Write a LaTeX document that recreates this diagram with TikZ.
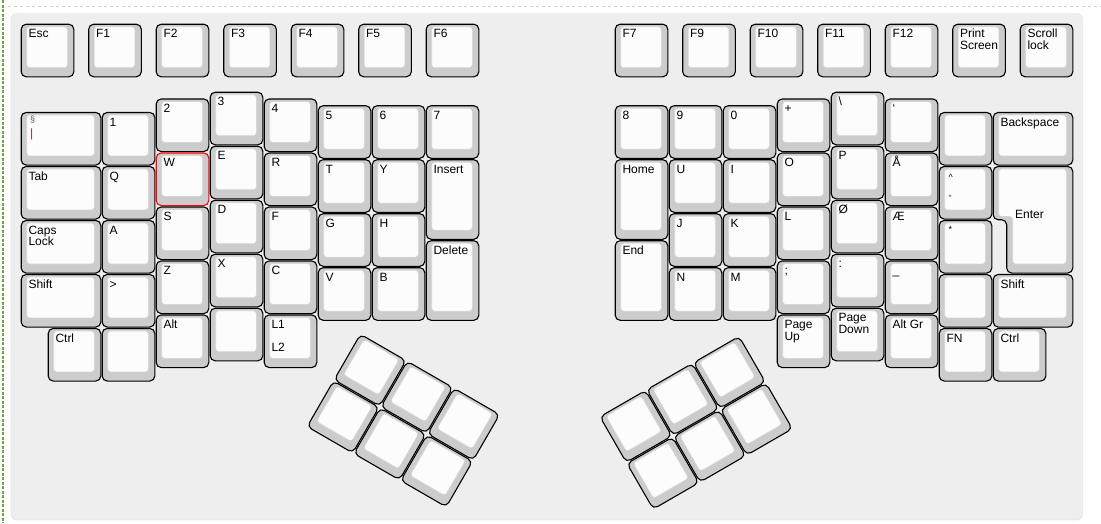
\documentclass[tikz,border=0pt]{standalone}
\usepackage{fontspec}
\setmainfont{Liberation Sans}
\definecolor{panelfill}{HTML}{EEEEEE}
\definecolor{paneledge}{HTML}{DDDDDD}
\definecolor{capside}{HTML}{CCCCCC}
\definecolor{captop}{HTML}{FCFCFC}
\definecolor{capedge}{HTML}{D6D6D6}
\definecolor{dashgray}{HTML}{D0D0D0}
\definecolor{dashgreen}{HTML}{6FA347}
\definecolor{labred}{HTML}{8A3A3A}
\definecolor{labgray}{HTML}{555555}
\definecolor{labblue}{HTML}{2A3A7A}
\tikzset{
  kout/.style={draw=black,line width=1.1pt,fill=capside,rounded corners=5pt},
  kin/.style={draw=capedge,line width=0.6pt,fill=captop,rounded corners=3pt},
  klab/.style={anchor=base west,inner sep=0pt,font=\fontsize{12}{11.5}\selectfont,text=black},
  ksmall/.style={anchor=base west,inner sep=0pt,font=\fontsize{9}{10}\selectfont},
}
% key in pixel coordinates: [outer style]{name}{x}{y}{w}{h}{label}
\newcommand\kp[7][]{%
  \draw[kout,#1] (#3+0.7,#4+0.7) rectangle ++(#5-1.4,#6-1.4);
  \draw[kin] (#3+6.2,#4+3.2) rectangle ++(#5-13.4,#6-13);
  \node[klab] (#2) at (#3+7.8,#4+14.4) {#7};}
% key in units
\newcommand\ku[7][]{\kp[#1]{#2}{20.5+54*#3}{#4}{54*#5}{54*#6}{#7}}
% blank thumb key
\newcommand\kb[2]{%
  \draw[kout] (#1+0.7,#2+0.7) rectangle ++(52.6,52.6);
  \draw[kin] (#1+6.2,#2+3.2) rectangle ++(40.6,41);}
\newcommand\two[2]{\vtop{\hbox{#1}\hbox{#2}}}
\def\RT{23.5}
\def\RC{91.5}
\def\RB{98.25}
\def\RD{105}
\def\RA{111.75}
\begin{document}
\begin{tikzpicture}[x=1pt,y=-1pt]
\useasboundingbox (0,0) rectangle (1101,523);
\fill[white] (0,0) rectangle (1101,523);
\draw[dashgray,dashed] (8,6) -- (1101,6);
\draw[dashgreen,dash pattern=on 3pt off 1.5pt,line width=1.3pt] (3,0) -- (3,523);
\draw[paneledge,fill=panelfill,rounded corners=6pt] (11,13.5) rectangle (1082.5,520);
% top row
\ku{esc}{0}{\RT}{1}{1}{Esc}
\ku{f1}{1.25}{\RT}{1}{1}{F1}
\ku{f2}{2.5}{\RT}{1}{1}{F2}
\ku{f3}{3.75}{\RT}{1}{1}{F3}
\ku{f4}{5}{\RT}{1}{1}{F4}
\ku{f5}{6.25}{\RT}{1}{1}{F5}
\ku{f6}{7.5}{\RT}{1}{1}{F6}
\ku{f7}{11}{\RT}{1}{1}{F7}
\ku{f9}{12.25}{\RT}{1}{1}{F9}
\ku{f10}{13.5}{\RT}{1}{1}{F10}
\ku{f11}{14.75}{\RT}{1}{1}{F11}
\ku{f12}{16}{\RT}{1}{1}{F12}
\ku{prt}{17.25}{\RT}{1}{1}{\two{Print}{Screen}}
\ku{scr}{18.5}{\RT}{1}{1}{\two{Scroll}{lock}}
% left block col 0
\ku{sect}{0}{\RA}{1.5}{1}{}
\node[ksmall,text=labgray] (secta) at (30,122.5) {§};
\node[klab,text=labred] (sectb) at (30,137.3) {|};
\ku{tab}{0}{\RA+54}{1.5}{1}{Tab}
\ku{caps}{0}{\RA+108}{1.5}{1}{\two{Caps}{Lock}}
\ku{lshift}{0}{\RA+162}{1.5}{1}{Shift}
\ku{lctrl}{0.5}{\RA+216}{1}{1}{Ctrl}
% col 1
\ku{k1}{1.5}{\RA}{1}{1}{1}
\ku{kq}{1.5}{\RA+54}{1}{1}{Q}
\ku{ka}{1.5}{\RA+108}{1}{1}{A}
\ku{kgt}{1.5}{\RA+162}{1}{1}{>}
\ku{kl1}{1.5}{\RA+216}{1}{1}{}
% col 2
\ku{k2}{2.5}{\RB}{1}{1}{2}
\ku[draw=red]{kw}{2.5}{\RB+54}{1}{1}{W}
\ku{ks}{2.5}{\RB+108}{1}{1}{S}
\ku{kz}{2.5}{\RB+162}{1}{1}{Z}
\ku{lalt}{2.5}{\RB+216}{1}{1}{Alt}
% col 3
\ku{k3}{3.5}{\RC}{1}{1}{3}
\ku{ke}{3.5}{\RC+54}{1}{1}{E}
\ku{kd}{3.5}{\RC+108}{1}{1}{D}
\ku{kx}{3.5}{\RC+162}{1}{1}{X}
\ku{kl2}{3.5}{\RC+216}{1}{1}{}
% col 4
\ku{k4}{4.5}{\RB}{1}{1}{4}
\ku{kr}{4.5}{\RB+54}{1}{1}{R}
\ku{kf}{4.5}{\RB+108}{1}{1}{F}
\ku{kc}{4.5}{\RB+162}{1}{1}{C}
\ku{kly}{4.5}{\RB+216}{1}{1}{L1}
\node[klab] (klyb) at (271.3,351.3) {L2};
% col 5-7
\ku{k5}{5.5}{\RD}{1}{1}{5}
\ku{kt}{5.5}{\RD+54}{1}{1}{T}
\ku{kg}{5.5}{\RD+108}{1}{1}{G}
\ku{kv}{5.5}{\RD+162}{1}{1}{V}
\ku{k6}{6.5}{\RD}{1}{1}{6}
\ku{ky}{6.5}{\RD+54}{1}{1}{Y}
\ku{kh}{6.5}{\RD+108}{1}{1}{H}
\ku{kbb}{6.5}{\RD+162}{1}{1}{B}
\ku{k7}{7.5}{\RD}{1}{1}{7}
\ku{ins}{7.5}{\RD+54}{1}{1.5}{Insert}
\ku{del}{7.5}{\RD+135}{1}{1.5}{Delete}
% right block
\ku{k8}{11}{\RD}{1}{1}{8}
\ku{home}{11}{\RD+54}{1}{1.5}{Home}
\ku{endk}{11}{\RD+135}{1}{1.5}{End}
\ku{k9}{12}{\RD}{1}{1}{9}
\ku{ku}{12}{\RD+54}{1}{1}{U}
\ku{kj}{12}{\RD+108}{1}{1}{J}
\ku{kn}{12}{\RD+162}{1}{1}{N}
\ku{k0}{13}{\RD}{1}{1}{0}
\ku{ki}{13}{\RD+54}{1}{1}{I}
\ku{kk}{13}{\RD+108}{1}{1}{K}
\ku{km}{13}{\RD+162}{1}{1}{M}
\ku{kplus}{14}{\RB}{1}{1}{+}
\ku{ko}{14}{\RB+54}{1}{1}{O}
\ku{kll}{14}{\RB+108}{1}{1}{L}
\ku{ksemi}{14}{\RB+162}{1}{1}{;}
\ku{pgup}{14}{\RB+216}{1}{1}{\two{Page}{Up}}
\ku{kbs}{15}{\RC}{1}{1}{\textbackslash}
\ku{kp}{15}{\RC+54}{1}{1}{P}
\ku{koe}{15}{\RC+108}{1}{1}{Ø}
\ku{kcolon}{15}{\RC+162}{1}{1}{:}
\ku{pgdn}{15}{\RC+216}{1}{1}{\two{Page}{Down}}
\ku{kgrave}{16}{\RB}{1}{1}{`}
\ku{kaa}{16}{\RB+54}{1}{1}{Å}
\ku{kae}{16}{\RB+108}{1}{1}{Æ}
\ku{kus}{16}{\RB+162}{1}{1}{\_}
\ku{altgr}{16}{\RB+216}{1}{1}{Alt Gr}
\ku{kr6a}{17}{\RA}{1}{1}{}
\ku{kcaret}{17}{\RA+54}{1}{1}{}
\node[ksmall] (caret) at (948.5,180) {\^{}};
\node[ksmall,text=labblue] (quote) at (948.5,201.5) {"};
\ku{kstar}{17}{\RA+108}{1}{1}{}
\node[ksmall] (star) at (948.5,232) {*};
\ku{kr6d}{17}{\RA+162}{1}{1}{}
\ku{fn}{17}{\RA+216}{1}{1}{FN}
\ku{bksp}{18}{\RA}{1.5}{1}{Backspace}
% ISO enter
\draw[kout] (993.2,166.45) -- (1072.8,166.45) -- (1072.8,273.05) -- (1006.7,273.05) -- (1006.7,219.75) -- (993.2,219.75) -- cycle;
\draw[kin] (998.7,168.95) -- (1066.3,168.95) -- (1066.3,263.95) -- (1012.7,263.95) -- (1012.7,216.5) -- (998.7,216.5) -- cycle;
\node[klab] (enter) at (1015,218.6) {Enter};
\ku{rshift}{18}{\RA+162}{1.5}{1}{Shift}
\ku{rctrl}{18}{\RA+216}{1}{1}{Ctrl}
% thumb clusters
\begin{scope}[shift={(360.2,333.3)},rotate=-30]
  \foreach \i in {0,1,2} {\foreach \j in {0,1} {\kb{54*\i}{54*\j}}}
\end{scope}
\begin{scope}[shift={(599,416.5)},rotate=30]
  \foreach \i in {0,1,2} {\foreach \j in {0,1} {\kb{54*\i}{54*\j}}}
\end{scope}
\end{tikzpicture}
\end{document}
